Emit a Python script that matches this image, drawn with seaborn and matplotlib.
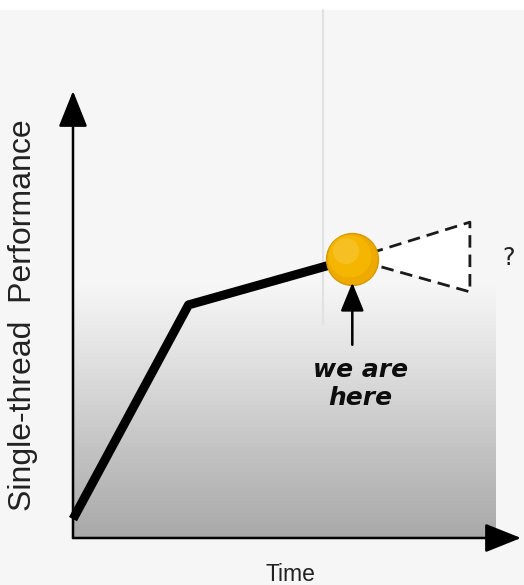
import numpy as np
import pandas as pd
import matplotlib
matplotlib.use("Agg")
import matplotlib.pyplot as plt
import seaborn as sns
from matplotlib.patches import Polygon, Rectangle

sns.set_theme(style="white")
plt.rcParams["font.family"] = ["DejaVu Sans"]

# Performance trend: fast growth, then a slowdown up to today
time_pts = [0.0, 2.75, 6.65]
perf_pts = [0.45, 5.55, 6.65]

# Uncertain future: a cone opening from the present point
cone_x = [6.65, 9.45, 9.45, 6.65]
cone_y = [6.65, 7.52, 5.86, 6.65]

now_x, now_y = time_pts[-1], perf_pts[-1]

x_label = "Time"
y_label = "Single-thread  Performance"
now_label_1 = "we are"
now_label_2 = "here"
future_label = "?"

fig = plt.figure(figsize=(5.24, 5.85), dpi=100)
fig.patch.set_facecolor("white")
ax = fig.add_axes([0, 0, 1, 1])
ax.set_xlim(-73 / 42, (524 - 73) / 42)
ax.set_ylim(-(585 - 538) / 42, 538 / 42)
ax.axis("off")

# light backdrop with a thin white strip along the top
ax.add_patch(Rectangle((-2, -2), 15, (538 - 10) / 42 + 2, facecolor="#f6f6f6",
                       edgecolor="none", zorder=0))

# grey gradient inside the plot area, darker toward the bottom
grad = np.linspace(0, 1, 256).reshape(-1, 1)
cmap = matplotlib.colors.LinearSegmentedColormap.from_list(
    "fade", [(0.0, "#a9a9a9"), (0.35, "#c3c3c3"), (0.7, "#e0e0e0"), (1.0, "#f6f6f6")])
ax.imshow(grad, cmap=cmap, aspect="auto", origin="lower",
          extent=[0, (495 - 73) / 42, 0, 6.0], zorder=1, interpolation="bicubic")

# faint vertical guide
ax.plot([5.95, 5.95], [5.1, 12.57], color="#e2e2e2", lw=1.6, zorder=1.5)

# axes as arrows
arrow_kw = dict(arrowstyle="-|>,head_length=1.25,head_width=0.5", lw=1.8,
                color="black", shrinkA=0, shrinkB=0, mutation_scale=18)
ax.annotate("", xy=(0, (538 - 91) / 42), xytext=(0, 0), arrowprops=arrow_kw, zorder=4)
ax.annotate("", xy=((521 - 73) / 42, 0), xytext=(0, 0), arrowprops=arrow_kw, zorder=4)

# future cone
ax.add_patch(Polygon(list(zip(cone_x, cone_y)), closed=True, facecolor="white",
                     edgecolor="none", zorder=2))
ax.plot(cone_x, cone_y, color="#1a1a1a", lw=2.0, ls=(0, (4.5, 2.5)), zorder=3)

# trend line
df = pd.DataFrame({"time": time_pts, "perf": perf_pts})
sns.lineplot(data=df, x="time", y="perf", ax=ax, color="black", lw=6.5,
             sort=False, zorder=5, solid_capstyle="butt")

# present point
sns.scatterplot(x=[now_x], y=[now_y], ax=ax, s=1400, color="#eeaa00",
                edgecolor="#d69a00", linewidth=1.0, zorder=6)
sns.scatterplot(x=[now_x - 0.06], y=[now_y + 0.06], ax=ax, s=950, color="#f5b800",
                edgecolor="none", linewidth=0, zorder=7, alpha=0.9)
sns.scatterplot(x=[now_x - 0.15], y=[now_y + 0.18], ax=ax, s=350, color="#f9c83a",
                edgecolor="none", linewidth=0, zorder=8, alpha=0.6)

# pointer to the present
ax.annotate("", xy=(now_x, 6.08), xytext=(now_x, 4.6), zorder=6,
            arrowprops=dict(arrowstyle="-|>,head_length=1.1,head_width=0.45",
                            lw=1.8, color="black", shrinkA=0, shrinkB=0,
                            mutation_scale=16))

ax.text(6.85, 4.0, now_label_1, ha="center", va="center", fontsize=18,
        fontweight="heavy", fontstyle="italic", color="#0d0d0d", zorder=6)
ax.text(6.85, 3.33, now_label_2, ha="center", va="center", fontsize=18,
        fontweight="heavy", fontstyle="italic", color="#0d0d0d", zorder=6)
ax.text(10.36, 6.67, future_label, ha="center", va="center", fontsize=17,
        color="#222222", zorder=6)

ax.text(5.17, -0.88, x_label, ha="center", va="center", fontsize=16.5,
        color="#222222", family=["Liberation Sans", "DejaVu Sans"])
ax.text(-1.2, 5.3, y_label, ha="center", va="center", fontsize=23,
        rotation=90, color="#222222", family=["Liberation Sans", "DejaVu Sans"])

fig.savefig("out.png", dpi=100, facecolor=fig.get_facecolor())
